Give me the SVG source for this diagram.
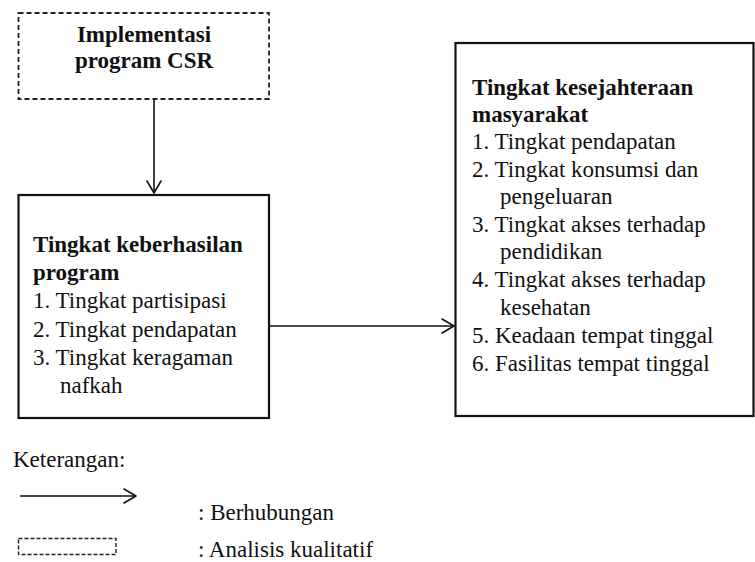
<svg xmlns="http://www.w3.org/2000/svg" width="755" height="562" viewBox="0 0 755 562">
<style>
text{font-family:"Liberation Serif","Times New Roman",serif;font-size:23px;fill:#111}
.b{font-weight:bold}
.box{fill:#fff;stroke:#111;stroke-width:2.2}
.dash{fill:#fff;stroke:#222;stroke-width:1.8;stroke-dasharray:5 3}
.ln{stroke:#111;stroke-width:1.6;fill:none}
.hd{stroke:#111;stroke-width:1.6;fill:none;stroke-linecap:round;stroke-linejoin:round}
</style>
<rect width="755" height="562" fill="#fff"/>
<g id="node-implementasi">
<rect class="dash" x="18.5" y="13" width="250.5" height="86"/>
<text class="b" x="144" y="42" text-anchor="middle">Implementasi</text>
<text class="b" x="144" y="68" text-anchor="middle">program CSR</text>
</g>
<g id="node-keberhasilan">
<rect class="box" x="18.5" y="195" width="250.5" height="223"/>
<text class="b" x="33" y="252">Tingkat keberhasilan</text>
<text class="b" x="33" y="280">program</text>
<text x="33" y="308">1. Tingkat partisipasi</text>
<text x="33" y="337">2. Tingkat pendapatan</text>
<text x="33" y="365">3. Tingkat keragaman</text>
<text x="60" y="393">nafkah</text>
</g>
<g id="node-kesejahteraan">
<rect class="box" x="455.5" y="43" width="298" height="373"/>
<text class="b" x="472" y="95">Tingkat kesejahteraan</text>
<text class="b" x="472" y="122">masyarakat</text>
<text x="472" y="149">1. Tingkat pendapatan</text>
<text x="472" y="177">2. Tingkat konsumsi dan</text>
<text x="500" y="204">pengeluaran</text>
<text x="472" y="232">3. Tingkat akses terhadap</text>
<text x="500" y="259">pendidikan</text>
<text x="472" y="287">4. Tingkat akses terhadap</text>
<text x="500" y="315">kesehatan</text>
<text x="472" y="343">5. Keadaan tempat tinggal</text>
<text x="472" y="371">6. Fasilitas tempat tinggal</text>
</g>
<g id="connectors">
<line class="ln" x1="154" y1="99" x2="154" y2="193"/>
<polyline class="hd" points="147,181 154,193 161,181"/>
<line class="ln" x1="269" y1="326" x2="454" y2="326"/>
<polyline class="hd" points="442,319 454,326 442,333"/>
</g>
<g id="legend">
<text x="13" y="467">Keterangan:</text>
<line class="ln" x1="20" y1="496" x2="136" y2="496"/>
<polyline class="hd" points="124,489 136,496 124,503"/>
<text x="198" y="520">: Berhubungan</text>
<rect class="dash" x="18.5" y="538.5" width="97.5" height="16" style="stroke-width:1.4;stroke-dasharray:4 2"/>
<text x="198" y="557">: Analisis kualitatif</text>
</g>
</svg>
